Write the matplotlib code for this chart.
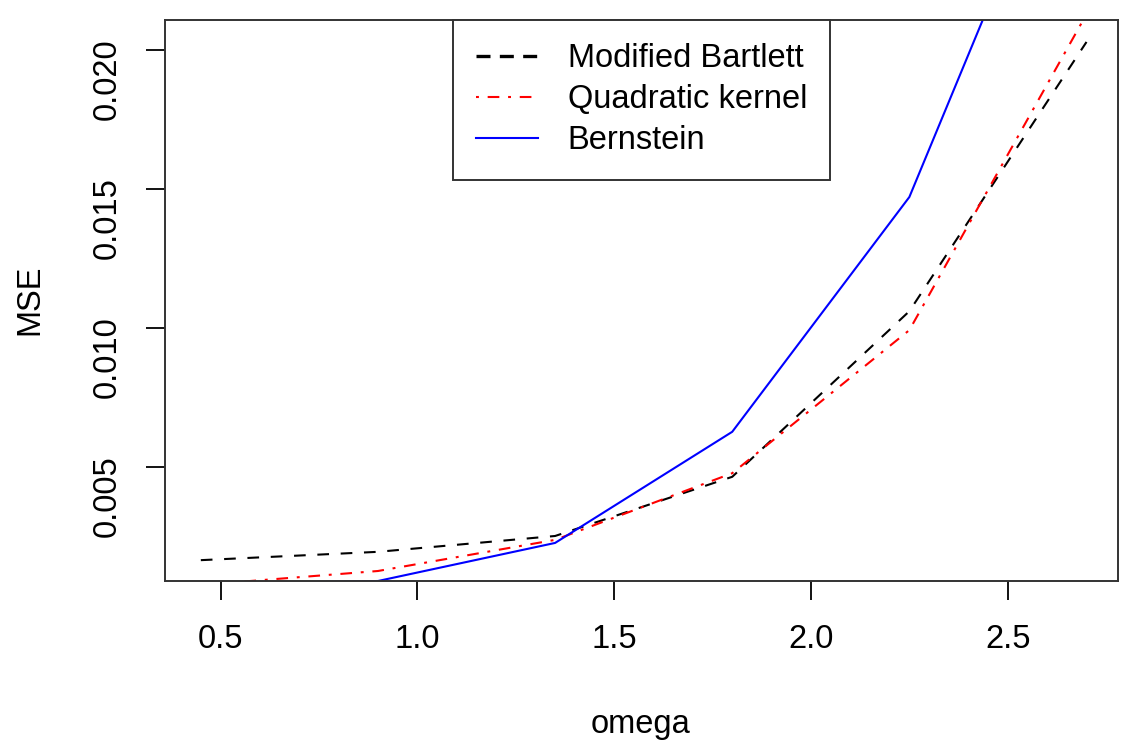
import matplotlib
matplotlib.use('Agg')
import matplotlib.pyplot as plt
from matplotlib.lines import Line2D

plt.rcParams['font.family'] = ['Liberation Sans', 'DejaVu Sans']

# MSE against omega for the three estimators
omega = [0.45, 0.9, 1.35, 1.8, 2.25, 2.7]
mse_bartlett = [0.00165, 0.00195, 0.00252, 0.00465, 0.01061, 0.0203]
mse_quadratic = [0.00076, 0.00126, 0.00238, 0.00478, 0.00993, 0.0213]
mse_bernstein = [0.0008, 0.0009, 0.00227, 0.00627, 0.01472, 0.0301]

labels = ['Modified Bartlett', 'Quadratic kernel', 'Bernstein']
xticks = [0.5, 1.0, 1.5, 2.0, 2.5]
yticks = [0.005, 0.010, 0.015, 0.020]

W, H = 1121, 747
fs = 23.5
fig = plt.figure(figsize=(W / 100, H / 100), dpi=100)
ax = fig.add_axes([165 / W, 1 - 581 / H, (1118 - 165) / W, (581 - 20) / H])

lw = 1.5
ax.plot(omega, mse_bartlett, color='black', lw=lw, dashes=(5.6, 5.6))
ax.plot(omega, mse_quadratic, color='red', lw=lw, dashes=(1.4, 4.2, 5.6, 4.2))
ax.plot(omega, mse_bernstein, color='blue', lw=lw)

ax.set_xlim(0.359, 2.78)
ax.set_ylim(0.0009, 0.02109)
ax.set_xticks(xticks)
ax.set_xticklabels(['%.1f' % t for t in xticks])
ax.set_yticks(yticks)
ax.set_yticklabels(['%.3f' % t for t in yticks])
ax.tick_params(axis='both', length=13.7, width=1.3, pad=17, labelsize=fs, color='black')
ax.tick_params(axis='y', labelrotation=90, pad=17)
for s in ax.spines.values():
    s.set_linewidth(1.4)
    s.set_color('#333333')

fig.text(641 / W, 1 - 733 / H, 'omega', ha='center', va='baseline', fontsize=fs)
fig.text(30 / W, 1 - 300 / H, 'MSE', ha='center', va='center', rotation=90, fontsize=fs)

handles = [
    Line2D([], [], color='black', lw=2.4, dashes=(4.2, 2.8)),
    Line2D([], [], color='red', lw=lw, dashes=(1.4, 4.2, 5.6, 4.2)),
    Line2D([], [], color='blue', lw=lw),
]
leg = ax.legend(handles, labels, loc='upper center', borderaxespad=0, fontsize=fs,
                fancybox=False, framealpha=1, edgecolor='#333333', handlelength=1.9,
                handletextpad=0.9, labelspacing=0.3, borderpad=0.72)
leg.get_frame().set_linewidth(1.4)

fig.savefig('out.png', dpi=100)
